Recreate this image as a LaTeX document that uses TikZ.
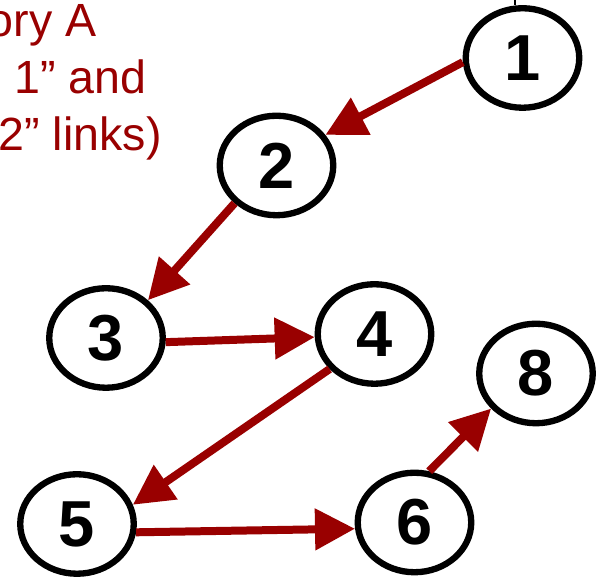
\documentclass[tikz,border=0pt]{standalone}
\usepackage{fontspec}
\setmainfont{Liberation Sans}
\usetikzlibrary{arrows.meta,shapes.geometric}
\definecolor{linkred}{RGB}{153,0,0}

\begin{document}
\begin{tikzpicture}[
    hop/.style={ellipse, draw=black, line width=3.6pt, inner sep=0pt,
      minimum width=2.27cm, minimum height=1.99cm,
      font=\fontsize{37}{44}\selectfont\bfseries},
    link/.style={draw=linkred, line width=4.55pt,
      -{Triangle[length=0.8cm,width=0.8cm]}},
    note/.style={text=linkred, anchor=base east, inner sep=0pt,
      font=\fontsize{26.5}{32}\selectfont}
  ]
      \useasboundingbox (0,0) rectangle (11.94,11.56);
      \node[note] (t1) at (1.94,10.82) {ory A};
      \node[note] (t2) at (2.94,9.68) {1” and};
      \node[note] (t3) at (3.24,8.54) {2” links)};
      \node[hop] (n1) at (10.45,10.40) {1};
      \node[hop] (n2) at (5.53,8.25) {2};
      \node[hop] (n3) at (2.12,4.80) {3};
      \node[hop] (n4) at (7.49,4.88) {4};
      \node[hop] (n5) at (1.54,1.08) {5};
      \node[hop] (n6) at (8.29,1.11) {6};
      \node[hop] (n8) at (10.72,4.09) {8};
      \coordinate (up) at (10.30,11.56);
      \draw[line width=0.6pt] (up) -- (up |- n1.north);
      \draw[link] (n1.184) -- (n2.32);
      \draw[link] (n2.222) -- (n3.42);
      \draw[link] (n3.356) -- (n4.183);
      \draw[link] (n4.218) -- (n5.19);
      \draw[link] (n5.352) -- (n6.186);
      \draw[link] (n6.74) -- (n8.218);
\end{tikzpicture}
\end{document}
